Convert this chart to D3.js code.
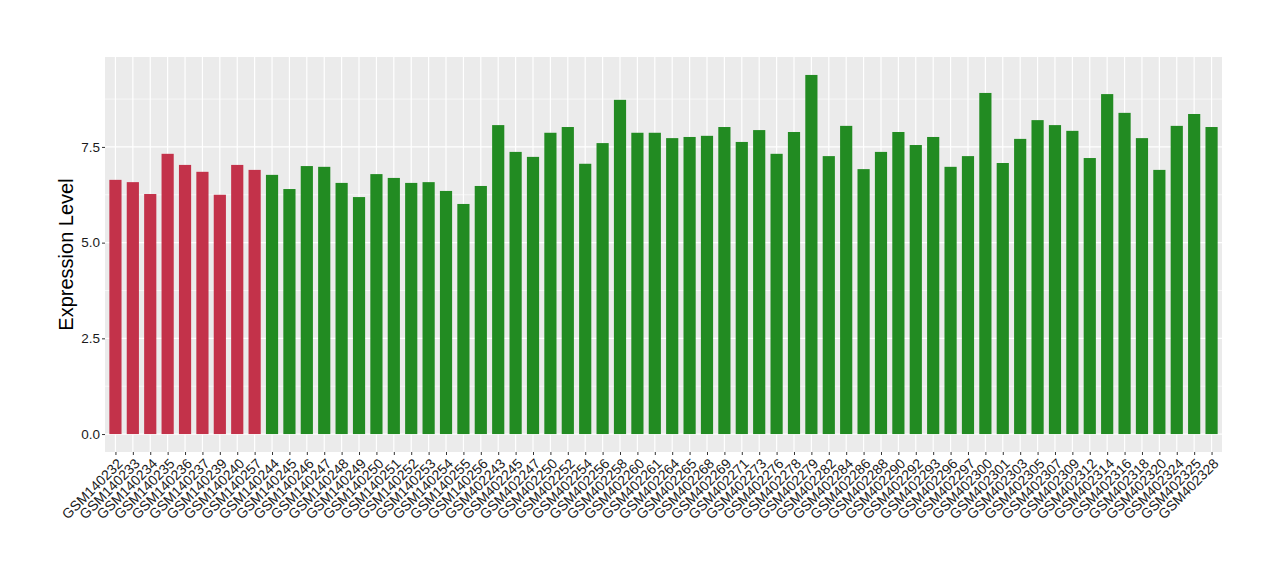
<!DOCTYPE html>
<html>
<head>
<meta charset="utf-8">
<script src="https://cdn.jsdelivr.net/npm/d3@7"></script>
<style>
body { margin: 0; background: #fff; }
text { font-family: "Liberation Sans", Arial, sans-serif; }
</style>
</head>
<body>
<script>
var width = 1280;
var height = 580;

var samples = ["GSM140232","GSM140233","GSM140234","GSM140235","GSM140236","GSM140237","GSM140239","GSM140240","GSM140257",
"GSM140244","GSM140245","GSM140246","GSM140247","GSM140248","GSM140249","GSM140250","GSM140251","GSM140252","GSM140253","GSM140254","GSM140255","GSM140256",
"GSM402243","GSM402245","GSM402247","GSM402250","GSM402252","GSM402254","GSM402256","GSM402258","GSM402260","GSM402261",
"GSM402264","GSM402265","GSM402268","GSM402269","GSM402271","GSM402273","GSM402276","GSM402278","GSM402279","GSM402282",
"GSM402284","GSM402286","GSM402288","GSM402290","GSM402292","GSM402293","GSM402296","GSM402297","GSM402300","GSM402301",
"GSM402303","GSM402305","GSM402307","GSM402309","GSM402312","GSM402314","GSM402316","GSM402318","GSM402320","GSM402324",
"GSM402325","GSM402328"];

var values = [6.64,6.58,6.27,7.32,7.03,6.85,6.25,7.03,6.90,
6.77,6.40,7.00,6.98,6.56,6.19,6.79,6.69,6.56,6.58,6.35,6.01,6.48,
8.07,7.37,7.24,7.87,8.02,7.06,7.60,8.73,7.87,7.87,
7.73,7.76,7.79,8.02,7.63,7.94,7.32,7.89,9.38,7.26,
8.05,6.92,7.37,7.89,7.55,7.76,6.98,7.26,8.91,7.08,
7.71,8.20,8.07,7.92,7.21,8.88,8.39,7.73,6.90,8.05,
8.36,8.02];

// first 9 samples are group 1 (red), rest group 2 (green)
var groups = samples.map(function(d, i){ return i < 9 ? "g1" : "g2"; });
var groupColors = { g1: "#c3324a", g2: "#228b22" };

var yTicks = [0, 2.5, 5, 7.5];
var yMinor = [1.25, 3.75, 6.25, 8.75];

var pLeft = 105, pRight = 1222, pTop = 57, pBottom = 452;

var svg = d3.select("body")
.append("svg")
.attr("width", width)
.attr("height", height);

var maxV = d3.max(values);
var y = d3.scaleLinear()
.domain([-maxV * 0.05, maxV * 1.05])
.range([pBottom, pTop]);

// ggplot discrete expansion of 0.6 units on each side
var n = samples.length;
var unit = (pRight - pLeft) / (n - 1 + 1.2);
var x = d3.scalePoint()
.domain(samples)
.range([pLeft + 0.6 * unit, pRight - 0.6 * unit]);

var barW = unit * 0.7;

svg.append("rect")
.attr("x", pLeft)
.attr("y", pTop)
.attr("width", pRight - pLeft)
.attr("height", pBottom - pTop)
.attr("fill", "#ebebeb");

svg.selectAll(".minor")
.data(yMinor)
.enter()
.append("line")
.attr("x1", pLeft).attr("x2", pRight)
.attr("y1", function(d){ return y(d); })
.attr("y2", function(d){ return y(d); })
.attr("stroke", "#fff")
.attr("stroke-width", 0.6);

svg.selectAll(".major")
.data(yTicks)
.enter()
.append("line")
.attr("x1", pLeft).attr("x2", pRight)
.attr("y1", function(d){ return y(d); })
.attr("y2", function(d){ return y(d); })
.attr("stroke", "#fff")
.attr("stroke-width", 1.2);

svg.selectAll(".vgrid")
.data(samples)
.enter()
.append("line")
.attr("x1", function(d){ return x(d); })
.attr("x2", function(d){ return x(d); })
.attr("y1", pTop).attr("y2", pBottom)
.attr("stroke", "#fff")
.attr("stroke-width", 1.2);

svg.selectAll(".bar")
.data(values)
.enter()
.append("rect")
.attr("x", function(d, i){ return x(samples[i]) - barW / 2; })
.attr("y", function(d){ return y(d); })
.attr("width", barW)
.attr("height", function(d){ return y(0) - y(d); })
.attr("fill", function(d, i){ return groupColors[groups[i]]; });

var yAxis = d3.axisLeft(y)
.tickValues(yTicks)
.tickSize(3)
.tickPadding(2)
.tickFormat(d3.format(".1f"));

var gy = svg.append("g")
.attr("transform", "translate(" + pLeft + ",0)")
.call(yAxis);
gy.select(".domain").remove();
gy.selectAll("line").attr("stroke", "#333");
gy.selectAll("text").attr("font-size", "13.5px").attr("fill", "#1a1a1a")
.style("font-family", "'Liberation Sans', Arial, sans-serif");

var xAxis = d3.axisBottom(x)
.tickSize(3)
.tickPadding(2);

var gx = svg.append("g")
.attr("transform", "translate(0," + pBottom + ")")
.call(xAxis);
gx.select(".domain").remove();
gx.selectAll("line").attr("stroke", "#333");
gx.selectAll("text")
.attr("font-size", "14px")
.attr("fill", "#1a1a1a")
.style("font-family", "'Liberation Sans', Arial, sans-serif")
.attr("text-anchor", "end")
.attr("dy", "0.35em")
.attr("y", 0)
.attr("x", 0)
.attr("transform", "translate(4,9) rotate(-45)");

svg.append("text")
.attr("transform", "translate(73," + ((pTop + pBottom) / 2) + ") rotate(-90)")
.attr("text-anchor", "middle")
.attr("font-size", "20px")
.attr("fill", "#000")
.text("Expression Level");
</script>
</body>
</html>
